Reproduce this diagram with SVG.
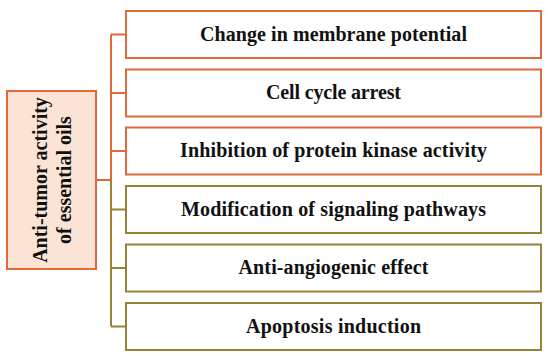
<svg xmlns="http://www.w3.org/2000/svg" width="550" height="356" viewBox="0 0 550 356">
<style>
.bo{fill:#ffffff;stroke:#e0693a;stroke-width:2}
.bg{fill:#ffffff;stroke:#958436;stroke-width:2}
.root{fill:#fbe4d6;stroke:#e0693a;stroke-width:2}
.lo{stroke:#e0693a;stroke-width:2;fill:none}
.lg{stroke:#958436;stroke-width:2;fill:none}
text{font-family:"Liberation Serif","Times New Roman",serif;font-weight:bold;fill:#111111;text-anchor:middle}
.t{font-size:20px}
.r{font-size:20px}
</style>
<rect width="550" height="356" fill="#ffffff"/>
<g id="connectors">
<path class="lo" d="M96 180H111M111 180V34.5M111 34.5H126M111 93H126M111 151H126"/>
<path class="lg" d="M111 180V326.5M111 209.5H126M111 268H126M111 326.5H126"/>
</g>
<g id="root">
<rect class="root" x="7" y="91" width="89" height="178"/>
<text class="r" transform="translate(47 180) rotate(-90)" x="0" y="0">Anti-tumor activity</text>
<text class="r" transform="translate(71 180) rotate(-90)" x="0" y="0">of essential oils</text>
</g>
<g id="n1">
<rect class="bo" x="126" y="11" width="415" height="47"/>
<text class="t" x="333.5" y="40.5" textLength="267">Change in membrane potential</text>
</g>
<g id="n2">
<rect class="bo" x="126" y="69.5" width="415" height="47"/>
<text class="t" x="333.5" y="99" textLength="135">Cell cycle arrest</text>
</g>
<g id="n3">
<rect class="bo" x="126" y="127.5" width="415" height="47"/>
<text class="t" x="333.5" y="157" textLength="307">Inhibition of protein kinase activity</text>
</g>
<g id="n4">
<rect class="bg" x="126" y="186" width="415" height="47"/>
<text class="t" x="333.5" y="215.5" textLength="305">Modification of signaling pathways</text>
</g>
<g id="n5">
<rect class="bg" x="126" y="244.5" width="415" height="47"/>
<text class="t" x="333.5" y="274" textLength="190">Anti-angiogenic effect</text>
</g>
<g id="n6">
<rect class="bg" x="126" y="303" width="415" height="47"/>
<text class="t" x="333.5" y="332.5" textLength="175">Apoptosis induction</text>
</g>
</svg>
